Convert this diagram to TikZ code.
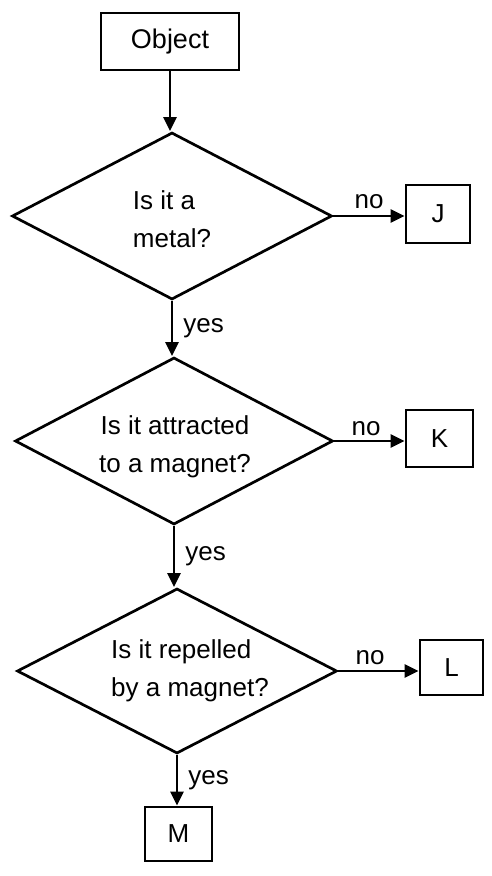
\documentclass[tikz,border=0pt]{standalone}
\usepackage{fontspec}
\setmainfont{Liberation Sans}
\usetikzlibrary{shapes.geometric,arrows.meta}

\begin{document}
\begin{tikzpicture}[x=1pt, y=-1pt,
  every node/.style={font=\fontsize{26}{38}\selectfont},
  box/.style={draw, line width=2.7pt, inner sep=0pt, minimum height=56pt},
  decision/.style={draw, diamond, line width=2.7pt, inner sep=0pt,
                   minimum width=320pt, minimum height=167pt},
  question/.style={align=left, inner sep=0pt},
  flow/.style={line width=2.7pt, -{Triangle[length=14pt,width=13pt]}},
  answer/.style={inner sep=0pt}
]
  % page
  \fill[white] (0,0) rectangle (492,876);

  % start box
  \node[box, minimum width=138pt, minimum height=57pt,
        font=\fontsize{27}{38}\selectfont] (obj) at (170,41.5) {Object};

  % first question
  \node[decision] (d1) at (172,216) {};
  \node[question] (q1) at (172,219) {Is it a\\metal?};
  \node[box, minimum width=64pt, minimum height=58pt] (j) at (438,214) {J};

  % second question
  \node[decision, minimum width=318pt] (d2) at (174,441) {};
  \node[question, align=center] (q2) at (175,447) {Is it attracted\\to a magnet?};
  \node[box, minimum width=67pt, minimum height=57pt] (k) at (439.5,438.5) {K};

  % third question
  \node[decision, minimum height=165pt] (d3) at (177,671) {};
  \node[question] (q3) at (190,671) {Is it repelled\\by a magnet?};
  \node[box, minimum width=63pt, minimum height=55pt] (l) at (451.5,667.5) {L};

  % end box
  \node[box, minimum width=67pt, minimum height=54pt] (m) at (178.5,834) {M};

  % vertical flow
  \draw[flow] (obj.south) -- (obj.south |- d1.north);
  \draw[flow] (d1.south) -- node[answer, anchor=west, xshift=10pt] {yes} (d1.south |- d2.north);
  \draw[flow] (d2.south) -- node[answer, anchor=west, xshift=10pt] {yes} (d2.south |- d3.north);
  \draw[flow] (d3.south) -- node[answer, anchor=west, xshift=10pt] {yes} (d3.south |- m.north);

  % side exits
  \draw[flow] (d1.east) -- node[answer, pos=0, anchor=south west, xshift=20pt, yshift=6pt] {no} (d1.east -| j.west);
  \draw[flow] (d2.east) -- node[answer, pos=0, anchor=south west, xshift=16pt, yshift=4pt] {no} (d2.east -| k.west);
  \draw[flow] (d3.east) -- node[answer, pos=0, anchor=south west, xshift=16pt, yshift=5pt] {no} (d3.east -| l.west);
\end{tikzpicture}
\end{document}
